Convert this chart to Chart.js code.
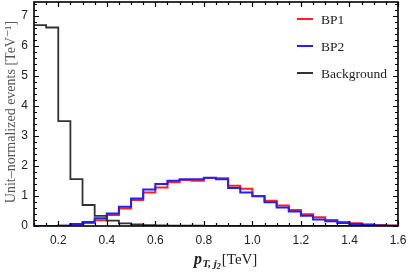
<!DOCTYPE html>
<html>
<head>
<meta charset="utf-8">
<script src="https://cdn.jsdelivr.net/npm/chart.js@4"></script>
<style>
  html, body { margin: 0; padding: 0; background: #fff; }
  #wrap { width: 409px; height: 273px; }
</style>
</head>
<body>
<div id="wrap"><canvas id="myChart" width="409" height="273"></canvas></div>
<script>
// left edges of the 0.05 TeV bins, plus the last right edge
const binEdges = [0.10, 0.15, 0.20, 0.25, 0.30, 0.35, 0.40, 0.45, 0.50, 0.55,
  0.60, 0.65, 0.70, 0.75, 0.80, 0.85, 0.90, 0.95, 1.00, 1.05,
  1.10, 1.15, 1.20, 1.25, 1.30, 1.35, 1.40, 1.45, 1.50, 1.55, 1.60];

const bp1 = [0, 0, 0.01, 0.05, 0.10, 0.19, 0.37, 0.58, 0.87, 1.12,
  1.28, 1.46, 1.53, 1.51, 1.60, 1.59, 1.34, 1.24, 1.00, 0.84,
  0.68, 0.53, 0.39, 0.29, 0.20, 0.13, 0.09, 0.05, 0.03, 0.02];

const bp2 = [0, 0, 0.01, 0.07, 0.13, 0.26, 0.42, 0.64, 0.92, 1.22,
  1.40, 1.51, 1.56, 1.56, 1.61, 1.56, 1.27, 1.12, 0.99, 0.79,
  0.62, 0.48, 0.34, 0.22, 0.16, 0.10, 0.07, 0.04, 0.02, 0.01];

const background = [6.70, 6.62, 3.50, 1.56, 0.70, 0.34, 0.18, 0.09, 0.05, 0.03,
  0.02, 0.015, 0.01, 0.01, 0.005, 0.005, 0, 0, 0, 0,
  0, 0, 0, 0, 0, 0, 0, 0, 0, 0];

const xTicks = [0.2, 0.4, 0.6, 0.8, 1.0, 1.2, 1.4, 1.6];
const yTicks = [0, 1, 2, 3, 4, 5, 6, 7];

const seriesNames = ["BP1", "BP2", "Background"];
const seriesColors = ["#ff2020", "#2020ff", "#333333"];

function toPoints(values) {
  const pts = values.map((v, i) => ({ x: binEdges[i], y: v }));
  // hold last bin up to the right edge
  pts.push({ x: binEdges[binEdges.length - 1], y: values[values.length - 1] });
  return pts;
}

function noPadding(scale) {
  scale.paddingTop = 0;
  scale.paddingBottom = 0;
  scale.paddingLeft = 0;
  scale.paddingRight = 0;
}

const framePlugin = {
  id: "frame",
  afterDraw(chart) {
    const ctx = chart.ctx;
    const a = chart.chartArea;
    const xs = chart.scales.x;
    const ys = chart.scales.y;
    ctx.save();
    ctx.strokeStyle = "#000";
    // inward ticks
    ctx.lineWidth = 1.2;
    ctx.beginPath();
    for (let i = 0; i < binEdges.length; i++) {
      const v = binEdges[i];
      const px = Math.round(xs.getPixelForValue(v)) + 0.5;
      const major = xTicks.some((t) => Math.abs(t - v) < 1e-6);
      const len = major ? 5 : 3;
      ctx.moveTo(px, a.bottom);
      ctx.lineTo(px, a.bottom - len);
      ctx.moveTo(px, a.top);
      ctx.lineTo(px, a.top + len);
    }
    for (let k = 0; k <= 37; k++) {
      const v = k * 0.2;
      const py = Math.round(ys.getPixelForValue(v)) + 0.5;
      if (py < a.top + 1) continue;
      const major = k % 5 === 0;
      const len = major ? 5 : 3;
      ctx.moveTo(a.left, py);
      ctx.lineTo(a.left + len, py);
      ctx.moveTo(a.right, py);
      ctx.lineTo(a.right - len, py);
    }
    ctx.stroke();
    // frame
    ctx.lineWidth = 1.6;
    ctx.strokeRect(a.left, a.top, a.right - a.left, a.bottom - a.top);

    // legend
    const rows = [19, 46, 73];
    ctx.font = "13.5px 'Liberation Serif', 'DejaVu Serif', serif";
    ctx.textBaseline = "middle";
    ctx.textAlign = "left";
    for (let i = 0; i < seriesNames.length; i++) {
      ctx.strokeStyle = seriesColors[i];
      ctx.lineWidth = 2;
      ctx.beginPath();
      ctx.moveTo(297, rows[i]);
      ctx.lineTo(313, rows[i]);
      ctx.stroke();
      ctx.fillStyle = "#222";
      ctx.fillText(seriesNames[i], 321, rows[i] + 1);
    }

    // y axis title
    ctx.save();
    ctx.translate(11, (a.top + a.bottom) / 2 - 2);
    ctx.rotate(-Math.PI / 2);
    ctx.textAlign = "center";
    ctx.fillStyle = "#555";
    ctx.font = "14px 'Liberation Serif', 'DejaVu Serif', serif";
    ctx.fillText("Unit\u2013normalized events [TeV\u207B\u00B9]", 0, 0);
    ctx.restore();

    // x axis title: p_{T,j2}[TeV]
    ctx.textAlign = "left";
    ctx.textBaseline = "alphabetic";
    ctx.fillStyle = "#222";
    const base = 264;
    let x = 194;
    ctx.font = "bold italic 16px 'Liberation Serif', 'DejaVu Serif', serif";
    ctx.fillText("p", x, base);
    x += ctx.measureText("p").width + 0.5;
    ctx.font = "bold italic 11px 'Liberation Serif', 'DejaVu Serif', serif";
    ctx.fillText("T, j", x, base + 3);
    x += ctx.measureText("T, j").width;
    ctx.font = "bold italic 8px 'Liberation Serif', 'DejaVu Serif', serif";
    ctx.fillText("2", x, base + 5);
    x += ctx.measureText("2").width + 1;
    ctx.font = "15px 'Liberation Serif', 'DejaVu Serif', serif";
    ctx.fillText("[TeV]", x, base);
    ctx.restore();
  },
};

const ctx = document.getElementById("myChart").getContext("2d");
const myChart = new Chart(ctx, {
  type: "line",
  data: {
    datasets: [
      {
        label: seriesNames[0],
        data: toPoints(bp1),
        borderColor: seriesColors[0],
        borderWidth: 2,
        stepped: "before",
        pointRadius: 0,
        fill: false,
        order: 3,
      },
      {
        label: seriesNames[1],
        data: toPoints(bp2),
        borderColor: seriesColors[1],
        borderWidth: 2,
        stepped: "before",
        pointRadius: 0,
        fill: false,
        order: 2,
      },
      {
        label: seriesNames[2],
        data: toPoints(background),
        borderColor: seriesColors[2],
        borderWidth: 1.8,
        stepped: "before",
        pointRadius: 0,
        fill: false,
        order: 1,
      },
    ],
  },
  options: {
    responsive: false,
    animation: false,
    layout: { padding: { top: 2, right: 11, left: 0, bottom: 0 } },
    plugins: {
      legend: { display: false },
      tooltip: { enabled: false },
    },
    scales: {
      x: {
        type: "linear",
        min: 0.1,
        max: 1.6,
        grid: { display: false, drawTicks: false },
        border: { display: false },
        afterBuildTicks(scale) {
          scale.ticks = xTicks.map((v) => ({ value: v }));
        },
        afterFit(scale) {
          scale.height = 47;
          noPadding(scale);
        },
        ticks: {
          padding: 7,
          maxRotation: 0,
          color: "#222",
          font: { family: "'Liberation Sans', Arial, sans-serif", size: 12 },
          callback: (v) => Number(v).toFixed(1),
        },
      },
      y: {
        min: 0,
        max: 7.47,
        grid: { display: false, drawTicks: false },
        border: { display: false },
        afterBuildTicks(scale) {
          scale.ticks = yTicks.map((v) => ({ value: v }));
        },
        afterFit(scale) {
          scale.width = 34;
          noPadding(scale);
        },
        ticks: {
          padding: 6,
          color: "#222",
          font: { family: "'Liberation Sans', Arial, sans-serif", size: 12 },
          callback: (v) => String(v),
        },
      },
    },
  },
  plugins: [framePlugin],
});
</script>
</body>
</html>
